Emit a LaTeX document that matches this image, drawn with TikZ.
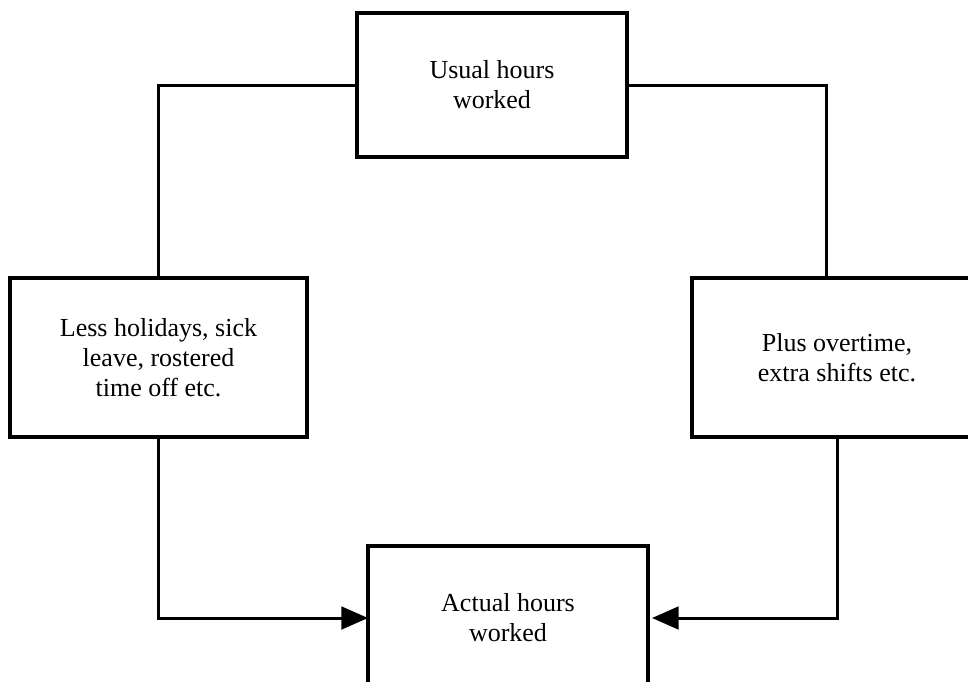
\documentclass[tikz,border=0pt]{standalone}
\usepackage{fontspec}
\setmainfont{Liberation Serif}
\usetikzlibrary{arrows.meta}

\begin{document}
\begin{tikzpicture}[x=0.75pt, y=-0.75pt]
   \tikzstyle{every node}=[draw, line width=3pt, align=center, inner sep=0pt, outer sep=0pt, font=\fontsize{19.5}{22.5}\selectfont]
   \tikzstyle{link}=[line width=2.25pt]
   \tikzstyle{arrow}=[link, -{Triangle[length=20pt, width=17pt]}]

\useasboundingbox (0,0) rectangle (968,682);
\clip (0,0) rectangle (968,682);

\node[minimum width=202.5pt, minimum height=108pt] (usual) at (492,85) {Usual hours\\worked};
\node[minimum width=222.75pt, minimum height=119.25pt] (less) at (158.5,357.5) {Less holidays, sick\\leave, rostered\\time off etc.};
\node[minimum width=217.5pt, minimum height=119.25pt] (plus) at (837,357.5) {Plus overtime,\\extra shifts etc.};
\node[minimum width=210pt, minimum height=108pt] (actual) at (508,618) {Actual hours\\worked};

\draw[link] (usual.west) -| (less.north);
\draw[link] (usual.east) -| ([xshift=-8.25pt]plus.north);
\draw[arrow] (less.south) |- (actual.west);
\draw[arrow, shorten >=3pt] (plus.south) |- (actual.east);

\end{tikzpicture}
\end{document}
